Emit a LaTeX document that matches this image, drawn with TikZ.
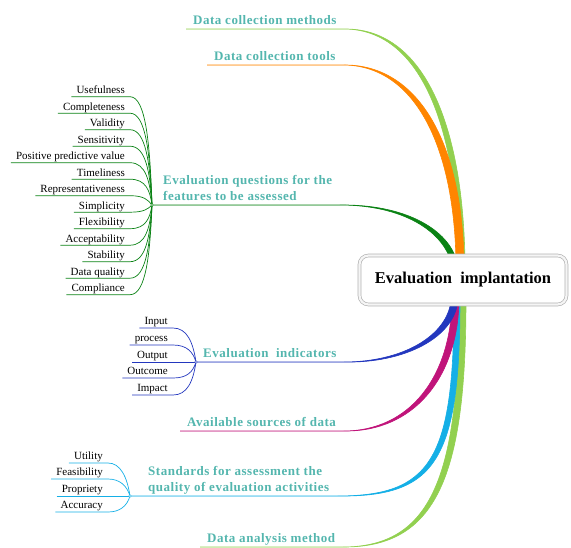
\documentclass[tikz,border=0pt]{standalone}
\usepackage{fontspec}
\setmainfont{Liberation Serif}
\newfontfamily\lblfont[LetterSpace=4]{Liberation Serif}
\usepackage{tikz}

\definecolor{lgreen}{RGB}{146,208,80}
\definecolor{borange}{RGB}{255,133,0}
\definecolor{dgreen}{RGB}{10,130,20}
\definecolor{dblue}{RGB}{35,55,190}
\definecolor{dmagenta}{RGB}{192,20,122}
\definecolor{lblue}{RGB}{20,175,230}
\definecolor{labteal}{RGB}{84,182,174}

\begin{document}
\begin{tikzpicture}[x=1pt, y=-1pt,
	lbl/.style={font=\lblfont\bfseries\fontsize{13}{16}\selectfont, text=labteal, anchor=south west, inner xsep=7pt, inner ysep=4pt, text depth=0pt, align=left},
	item/.style={font=\fontsize{11}{13}\selectfont, anchor=south east, inner xsep=5pt, inner ysep=3pt, text depth=0pt},
	sub/.style={line width=0.7pt},
	branch/.style={line width=0.6pt}]
	
	\useasboundingbox (0,0) rectangle (571,547);
	
	% ends under the centre box
	\coordinate (e1) at (459,262);
	\coordinate (e2) at (456,262);
	\coordinate (e3) at (451,262);
	\coordinate (e4) at (451,300);
	\coordinate (e5) at (452,300);
	\coordinate (e6) at (454,300);
	\coordinate (e7) at (459,300);
	
	\coordinate (qhub) at (152,205);
	\coordinate (ihub) at (196,362);
	\coordinate (shub) at (130,496);
	
	\node[lbl] (meth) at (186,29) {Data collection methods};
	\node[lbl] (tool) at (207,65) {Data collection tools};
	\node[lbl] (quest) at (156,205) {Evaluation questions for the\\features to be assessed};
	\node[lbl] (indic) at (ihub) {Evaluation\ \ indicators};
	\node[lbl] (src) at (180,431) {Available sources of data};
	\node[lbl] (stand) at (141,496) {Standards for assessment the\\quality of evaluation activities};
	\node[lbl] (anal) at (200,547) {Data analysis method};
	
	\filldraw[lgreen, branch] (meth.south west) -- (meth.south east) .. controls +(75,0) and +(-2,-140) .. (e1) -- ++(6,0) .. controls +(-2,-142) and +(78,-1.5) .. (meth.south east) -- cycle;
	\filldraw[borange, branch] (tool.south west) -- (tool.south east) .. controls +(70,0) and +(-2,-120) .. (e2) -- ++(8,0) .. controls +(-2,-122) and +(74,-1.5) .. (tool.south east) -- cycle;
	\filldraw[dgreen, branch] (qhub) -- (quest.south east) .. controls +(65,0) and +(-8,-30) .. (e3) -- ++(6,0) .. controls +(-8,-32) and +(67,-1) .. (quest.south east) -- cycle;
	
	\filldraw[lgreen, branch] (anal.south west) -- (anal.south east) .. controls +(90,0) and +(0,175) .. (e7) -- ++(7,0) .. controls +(0,177) and +(94,1) .. (anal.south east) -- cycle;
	\filldraw[lblue, branch] (shub) -- (stand.south east) .. controls +(95,0) and +(0,160) .. (e6) -- ++(6,0) .. controls +(0,162) and +(99,1.5) .. (stand.south east) -- cycle;
	\filldraw[dmagenta, branch] (src.south west) -- (src.south east) .. controls +(68,0) and +(-1,75) .. (e5) -- ++(7,0) .. controls +(-1,77) and +(71,1.5) .. (src.south east) -- cycle;
	\filldraw[dblue, branch] (ihub) -- (indic.south east) .. controls +(60,0) and +(-3,35) .. (e4) -- ++(7,0) .. controls +(-3,37) and +(62,1.5) .. (indic.south east) -- cycle;
	
	\node[draw=gray!60, double=gray!8, double distance=2.2pt, line width=0.7pt, rounded corners=9pt, fill=white, minimum width=207pt, minimum height=49pt, font=\bfseries\fontsize{16.5}{20}\selectfont] (impl) at (463,280) {Evaluation\ \ implantation};
	
	% features to be assessed
	\node[item] (q1) at (130,96.7) {Usefulness};
	\node[item] (q2) at (130,113.2) {Completeness};
	\node[item] (q3) at (130,129.7) {Validity};
	\node[item] (q4) at (130,146.2) {Sensitivity};
	\node[item] (q5) at (130,162.7) {Positive\ predictive\ value};
	\node[item] (q6) at (130,179.2) {Timeliness};
	\node[item] (q7) at (130,195.7) {Representativeness};
	\node[item] (q8) at (130,212.2) {Simplicity};
	\node[item] (q9) at (130,228.7) {Flexibility};
	\node[item] (q10) at (130,245.2) {Acceptability};
	\node[item] (q11) at (130,261.7) {Stability};
	\node[item] (q12) at (130,278.2) {Data quality};
	\node[item] (q13) at (130,294.7) {Compliance};
	
	\draw[dgreen, sub] (q1.south west) -- (q1.south east) .. controls +(16,0) and +(-2,-59.6) .. (qhub);
	\draw[dgreen, sub] (q2.south west) -- (q2.south east) .. controls +(16,0) and +(-2,-50.5) .. (qhub);
	\draw[dgreen, sub] (q3.south west) -- (q3.south east) .. controls +(16,0) and +(-2,-41.4) .. (qhub);
	\draw[dgreen, sub] (q4.south west) -- (q4.south east) .. controls +(16,0) and +(-2,-32.3) .. (qhub);
	\draw[dgreen, sub] (q5.south west) -- (q5.south east) .. controls +(16,0) and +(-2,-23.3) .. (qhub);
	\draw[dgreen, sub] (q6.south west) -- (q6.south east) .. controls +(16,0) and +(-2,-14.2) .. (qhub);
	\draw[dgreen, sub] (q7.south west) -- (q7.south east) .. controls +(14,0) and +(-4,-5.1) .. (qhub);
	\draw[dgreen, sub] (q8.south west) -- (q8.south east) .. controls +(14,0) and +(-4,4) .. (qhub);
	\draw[dgreen, sub] (q9.south west) -- (q9.south east) .. controls +(16,0) and +(-2,13) .. (qhub);
	\draw[dgreen, sub] (q10.south west) -- (q10.south east) .. controls +(16,0) and +(-2,22.1) .. (qhub);
	\draw[dgreen, sub] (q11.south west) -- (q11.south east) .. controls +(16,0) and +(-2,31.2) .. (qhub);
	\draw[dgreen, sub] (q12.south west) -- (q12.south east) .. controls +(16,0) and +(-2,40.3) .. (qhub);
	\draw[dgreen, sub] (q13.south west) -- (q13.south east) .. controls +(16,0) and +(-2,49.3) .. (qhub);
	\draw[dgreen, fill=white, line width=0.4pt] (qhub) circle (1.3);
	
	% indicators
	\node[item] (i1) at (173,328) {Input};
	\node[item] (i2) at (173,345) {process};
	\node[item] (i3) at (173,362) {Output};
	\node[item] (i4) at (173,378) {Outcome};
	\node[item] (i5) at (173,395) {Impact};
	
	\draw[dblue, sub] (i1.south west) -- (i1.south east) .. controls +(14,0) and +(-3,-20) .. (ihub);
	\draw[dblue, sub] (i2.south west) -- (i2.south east) .. controls +(14,0) and +(-3,-10) .. (ihub);
	\draw[dblue, sub] (i3.south west) -- (ihub);
	\draw[dblue, sub] (i4.south west) -- (i4.south east) .. controls +(14,0) and +(-3,10) .. (ihub);
	\draw[dblue, sub] (i5.south west) -- (i5.south east) .. controls +(14,0) and +(-3,20) .. (ihub);
	\draw[dblue, fill=white, line width=0.4pt] (ihub) circle (1.3);
	
	% standards
	\node[item] (s1) at (108,463) {Utility};
	\node[item] (s2) at (108,479) {Feasibility};
	\node[item] (s3) at (108,496) {Propriety};
	\node[item] (s4) at (108,512) {Accuracy};
	
	\draw[lblue, sub] (s1.south west) -- (s1.south east) .. controls +(12,0) and +(-3,-20) .. (shub);
	\draw[lblue, sub] (s2.south west) -- (s2.south east) .. controls +(12,0) and +(-3,-10) .. (shub);
	\draw[lblue, sub] (s3.south west) -- (shub);
	\draw[lblue, sub] (s4.south west) -- (s4.south east) .. controls +(12,0) and +(-3,10) .. (shub);
	\draw[lblue, fill=white, line width=0.4pt] (shub) circle (1.3);
	
\end{tikzpicture}
\end{document}
